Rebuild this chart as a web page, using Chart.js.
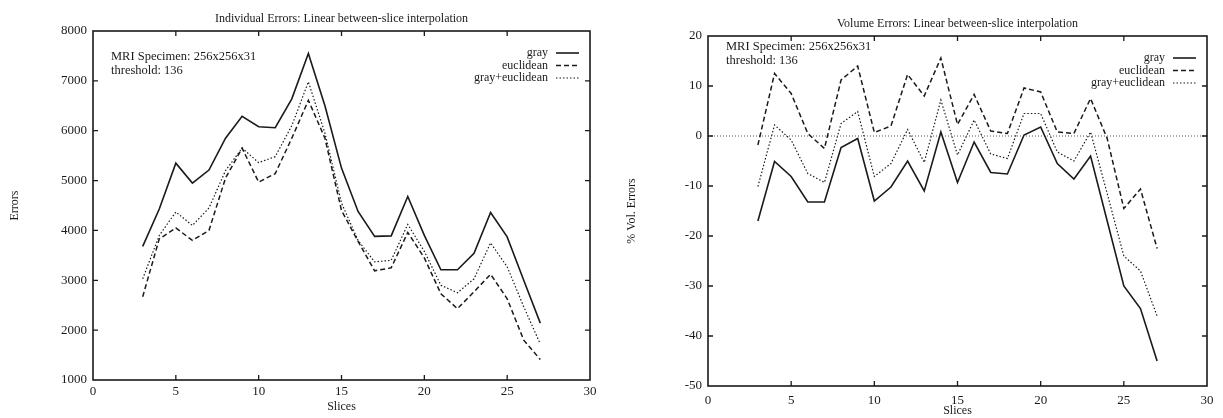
<!DOCTYPE html>
<html>
<head>
<meta charset="utf-8">
<script src="https://cdn.jsdelivr.net/npm/chart.js@4.4.1/dist/chart.umd.min.js"></script>
<style>
body { margin: 0; background: #fff; }
#indiv { position: absolute; left: 0; top: 0; }
#vol { position: absolute; left: 611px; top: 0; }
</style>
</head>
<body>
<canvas id="indiv" width="611" height="418"></canvas>
<canvas id="vol" width="612" height="418"></canvas>
<script>
// slice numbers shared by both plots
var slices = [3, 4, 5, 6, 7, 8, 9, 10, 11, 12, 13, 14, 15, 16, 17, 18, 19, 20, 21, 22, 23, 24, 25, 26, 27];
var seriesNames = ["gray", "euclidean", "gray+euclidean"];

// left plot: individual errors
var indivGray   = [3680, 4430, 5350, 4950, 5210, 5850, 6290, 6080, 6060, 6640, 7550, 6500, 5250, 4380, 3880, 3890, 4680, 3900, 3210, 3210, 3540, 4360, 3870, 3000, 2140];
var indivEuclid = [2670, 3830, 4050, 3800, 4000, 5050, 5650, 4970, 5140, 5850, 6610, 5850, 4400, 3780, 3190, 3250, 3960, 3450, 2730, 2430, 2770, 3120, 2630, 1800, 1410];
var indivBoth   = [3030, 3900, 4370, 4100, 4450, 5200, 5650, 5360, 5480, 6100, 6980, 5950, 4550, 3800, 3370, 3400, 4120, 3580, 2900, 2750, 3030, 3750, 3270, 2470, 1720];

// right plot: % volume errors
var volGray   = [-17, -5.1, -8.1, -13.2, -13.2, -2.3, -0.5, -13, -10.2, -5, -11, 0.8, -9.3, -1.2, -7.3, -7.6, 0.2, 1.8, -5.5, -8.6, -4, -17, -30, -34.5, -45];
var volEuclid = [-1.8, 12.5, 8.5, 0.5, -2.5, 11.2, 14, 0.7, 2, 12.3, 8, 15.6, 2.3, 8.3, 1, 0.5, 9.6, 8.8, 0.8, 0.5, 7.5, -0.5, -14.5, -10.6, -22.5];
var volBoth   = [-10.1, 2.2, -0.8, -7.5, -9.3, 2.5, 4.9, -8.1, -5.5, 1.3, -5.3, 7.2, -3.8, 3.2, -3.6, -4.5, 4.5, 4.5, -3.2, -5, 0.8, -11.5, -24, -27, -36];

// axis ranges [min, max, step]
var sliceAxis = [0, 30, 5];
var indivAxis = [1000, 8000, 1000];
var volAxis   = [-50, 20, 10];

var noteLines = ["MRI Specimen: 256x256x31", "threshold: 136"];

var serif = '"Liberation Serif", "DejaVu Serif", serif';
var ink = '#1a1a1a';

function makeSets(gray, euclid, both) {
  var vals = [gray, euclid, both];
  var dashes = [[], [5, 3], [1.5, 2]];
  var widths = [1.6, 1.5, 1.2];
  return seriesNames.map(function (name, i) {
    return {
      label: name,
      data: slices.map(function (s, j) { return { x: s, y: vals[i][j] }; }),
      borderColor: ink,
      borderWidth: widths[i],
      borderDash: dashes[i],
      pointRadius: 0,
      tension: 0,
      fill: false
    };
  });
}

// gnuplot look: frame, inward ticks, title, note, legend, zero axis
var gnuplotLook = {
  id: 'gnuplotLook',
  beforeDatasetsDraw: function (chart) {
    var o = chart.options.plugins.gnuplotLook;
    if (!o.zeroLine) return;
    var ctx = chart.ctx, a = chart.chartArea;
    var y0 = chart.scales.y.getPixelForValue(0);
    ctx.save();
    ctx.strokeStyle = '#555';
    ctx.lineWidth = 1;
    ctx.setLineDash([1, 2]);
    ctx.beginPath();
    ctx.moveTo(a.left, y0);
    ctx.lineTo(a.right, y0);
    ctx.stroke();
    ctx.restore();
  },
  afterDraw: function (chart) {
    var o = chart.options.plugins.gnuplotLook;
    var ctx = chart.ctx, a = chart.chartArea;
    var xs = chart.scales.x, ys = chart.scales.y;
    ctx.save();
    ctx.strokeStyle = ink;
    ctx.lineWidth = 1.6;
    ctx.strokeRect(a.left, a.top, a.right - a.left, a.bottom - a.top);

    ctx.lineWidth = 1.3;
    ctx.beginPath();
    xs.ticks.forEach(function (t) {
      var px = xs.getPixelForValue(t.value);
      if (px <= a.left + 1 || px >= a.right - 1) return;
      ctx.moveTo(px, a.bottom); ctx.lineTo(px, a.bottom - 5);
      ctx.moveTo(px, a.top); ctx.lineTo(px, a.top + 5);
    });
    ys.ticks.forEach(function (t) {
      var py = ys.getPixelForValue(t.value);
      if (py <= a.top + 1 || py >= a.bottom - 1) return;
      ctx.moveTo(a.left, py); ctx.lineTo(a.left + 5, py);
      ctx.moveTo(a.right, py); ctx.lineTo(a.right - 5, py);
    });
    ctx.stroke();

    ctx.fillStyle = ink;
    ctx.font = '12px ' + serif;
    ctx.textBaseline = 'middle';
    ctx.textAlign = 'center';
    ctx.fillText(o.title, (a.left + a.right) / 2, a.top - 12);

    ctx.textAlign = 'left';
    ctx.font = '12.5px ' + serif;
    noteLines.forEach(function (line, i) {
      ctx.fillText(line, a.left + 18, a.top + o.noteTop + i * 14);
    });

    ctx.font = '12px ' + serif;
    chart.data.datasets.forEach(function (ds, i) {
      var y = a.top + 22 + i * 12.5;
      ctx.textAlign = 'right';
      ctx.fillText(ds.label, a.right - 42, y);
      ctx.lineWidth = ds.borderWidth;
      ctx.setLineDash(ds.borderDash);
      ctx.beginPath();
      ctx.moveTo(a.right - 34, y);
      ctx.lineTo(a.right - 11, y);
      ctx.stroke();
      ctx.setLineDash([]);
    });
    ctx.restore();
  }
};

function makeChart(id, sets, yAxis, cfg) {
  return new Chart(document.getElementById(id).getContext('2d'), {
    type: 'line',
    data: { datasets: sets },
    options: {
      responsive: false,
      animation: false,
      layout: { padding: { top: cfg.top, right: cfg.right, bottom: 0, left: 0 } },
      plugins: {
        legend: { display: false },
        tooltip: { enabled: false },
        gnuplotLook: { title: cfg.title, noteTop: cfg.noteTop, zeroLine: cfg.zeroLine }
      },
      scales: {
        x: {
          type: 'linear',
          min: sliceAxis[0], max: sliceAxis[1],
          grid: { display: false, drawTicks: false },
          border: { display: false },
          ticks: { stepSize: sliceAxis[2], padding: cfg.xPad, color: ink, font: { family: serif, size: 13 } },
          title: { display: true, text: 'Slices', color: ink, padding: { top: 0, bottom: cfg.xTitlePad }, font: { family: serif, size: 12 } },
          afterFit: function (s) { s.height = cfg.xHeight; }
        },
        y: {
          min: yAxis[0], max: yAxis[1],
          grid: { display: false, drawTicks: false },
          border: { display: false },
          ticks: { stepSize: yAxis[2], padding: 6, color: ink, font: { family: serif, size: 13 },
                   callback: function (v) { return String(v); } },
          title: { display: true, text: cfg.yTitle, color: ink, padding: { top: cfg.yTitlePad, bottom: 0 }, font: { family: serif, size: 12 } },
          afterFit: function (s) { s.width = cfg.yWidth; }
        }
      }
    },
    plugins: [gnuplotLook]
  });
}

makeChart('indiv', makeSets(indivGray, indivEuclid, indivBoth), indivAxis, {
  title: 'Individual Errors: Linear between-slice interpolation',
  yTitle: 'Errors',
  top: 31, right: 21, yWidth: 93, xHeight: 38,
  xPad: 4, xTitlePad: 4, yTitlePad: 8, noteTop: 26, zeroLine: false
});

makeChart('vol', makeSets(volGray, volEuclid, volBoth), volAxis, {
  title: 'Volume Errors: Linear between-slice interpolation',
  yTitle: '% Vol. Errors',
  top: 36, right: 16, yWidth: 97, xHeight: 32,
  xPad: 7, xTitlePad: 0, yTitlePad: 14, noteTop: 11, zeroLine: true
});
</script>
</body>
</html>
